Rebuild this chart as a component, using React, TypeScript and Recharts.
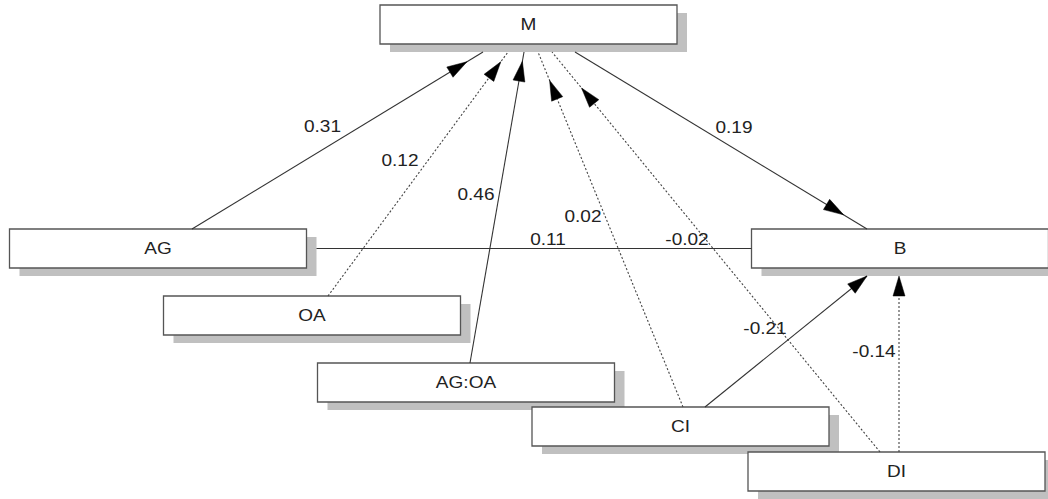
import React from 'react';
import { ComposedChart, XAxis, YAxis, ReferenceArea, ReferenceLine, Scatter } from 'recharts';

// Nodes of the path diagram (layout centres)
const nodeNames = ['M', 'AG', 'OA', 'AG:OA', 'CI', 'B', 'DI'];
const nodeX = [528.5, 158, 312, 466, 680.5, 900, 896.5];
const nodeY = [24.5, 248.5, 315.5, 382.5, 426.5, 248.5, 471.5];

// Edges (paths) with coefficients
const edgeFrom = ['AG', 'OA', 'AG:OA', 'CI', 'DI', 'M', 'AG', 'CI', 'DI'];
const edgeTo = ['M', 'M', 'M', 'M', 'M', 'B', 'B', 'B', 'B'];
const edgeCoef = ['0.31', '0.12', '0.46', '0.02', '-0.02', '0.19', '0.11', '-0.21', '-0.14'];
const edgeDotted = [false, true, false, true, true, false, false, false, true];
const edgeFromSide = ['top', 'top', 'top', 'top', 'top', 'bottom', 'right', 'top', 'top'];
const edgeFromOff = [34, 16, 4, 2.5, -16.5, 46.5, 0, 24.5, 2.5];
const edgeToSide = ['bottom', 'bottom', 'bottom', 'bottom', 'bottom', 'top', 'left', 'bottom', 'bottom'];
const edgeToOff = [-45.5, -20.5, -4.5, 9.5, 23.5, -33, 0, -33, -1];
const edgeArrowAt = [0.945, 0.96, 0.97, 0.92, 0.91, 0.92, 0, 1, 1];
const edgeLabelX = [322.5, 400, 476, 583, 687, 734, 548, 765, 874];
const edgeLabelY = [126.5, 160, 194, 216.5, 239, 127, 239, 328.5, 351.5];

const W = 1048;
const H = 499;
const BOX_W = 297;
const BOX_H = 39;
const SH_DX = 10;
const SH_DY = 8;
const FONT = '"Liberation Sans", Arial, Helvetica, sans-serif';

function anchor(name: string, side: string, off: number) {
  const i = nodeNames.indexOf(name);
  const cx = nodeX[i];
  const cy = nodeY[i];
  if (side === 'top') return { x: cx + off, y: cy - BOX_H / 2 };
  if (side === 'bottom') return { x: cx + off, y: cy + BOX_H / 2 + SH_DY };
  if (side === 'right') return { x: cx + BOX_W / 2 + SH_DX, y: cy + off };
  return { x: cx - BOX_W / 2, y: cy + off };
}

const makeEdgeShape = (dotted: boolean, arrowAt: number) => (props: any) => {
  const x1 = Number(props.x1);
  const y1 = Number(props.y1);
  const x2 = Number(props.x2);
  const y2 = Number(props.y2);
  const dx = x2 - x1;
  const dy = y2 - y1;
  const len = Math.sqrt(dx * dx + dy * dy) || 1;
  const ux = dx / len;
  const uy = dy / len;
  let arrow = null;
  if (arrowAt > 0) {
    const tx = x1 + dx * arrowAt;
    const ty = y1 + dy * arrowAt;
    const bx = tx - ux * 20;
    const by = ty - uy * 20;
    const px = -uy * 6;
    const py = ux * 6;
    arrow = (
      <polygon
        points={`${tx},${ty} ${bx + px},${by + py} ${bx - px},${by - py}`}
        fill="#000"
        stroke="#000"
        strokeWidth={0.5}
      />
    );
  }
  return (
    <g>
      <line
        x1={x1}
        y1={y1}
        x2={x2}
        y2={y2}
        stroke={dotted ? '#444' : '#333'}
        strokeWidth={dotted ? 1.1 : 1.1}
        strokeDasharray={dotted ? '2 2' : undefined}
      />
      {arrow}
    </g>
  );
};

const labelData = edgeCoef.map((c, i) => ({ lx: edgeLabelX[i], ly: edgeLabelY[i], text: c }));

const StretchText = ({ x, y, text }: { x: number; y: number; text: string }) => (
  <text
    transform={`translate(${x},${y}) scale(1.12,1)`}
    x={0}
    y={0}
    textAnchor="middle"
    dominantBaseline="central"
    fontFamily={FONT}
    fontSize={17}
    fill="#222"
  >
    {text}
  </text>
);

export default function App() {
  return (
    <div style={{ position: 'absolute', left: 0, top: 0, background: '#fff' }}>
      <ComposedChart width={W} height={H} margin={{ top: 0, right: 0, bottom: 0, left: 0 }}>
        <XAxis type="number" dataKey="lx" domain={[0, W]} hide allowDataOverflow />
        <YAxis type="number" dataKey="ly" domain={[0, H]} reversed hide allowDataOverflow />
        {nodeNames.map((n, i) => (
          <ReferenceArea
            key={'sh' + n}
            x1={nodeX[i] - BOX_W / 2 + SH_DX}
            x2={nodeX[i] + BOX_W / 2 + SH_DX}
            y1={nodeY[i] - BOX_H / 2 + SH_DY}
            y2={nodeY[i] + BOX_H / 2 + SH_DY}
            fill="#c0c0c0"
            fillOpacity={1}
            stroke="none"
            ifOverflow="visible"
          />
        ))}
        {nodeNames.map((n, i) => (
          <ReferenceArea
            key={'bx' + n}
            x1={nodeX[i] - BOX_W / 2}
            x2={nodeX[i] + BOX_W / 2}
            y1={nodeY[i] - BOX_H / 2}
            y2={nodeY[i] + BOX_H / 2}
            fill="#fff"
            fillOpacity={1}
            stroke="#555"
            strokeWidth={1.3}
            ifOverflow="visible"
            label={(lp: any) => {
              const vb = lp.viewBox || {};
              return <StretchText x={vb.x + vb.width / 2} y={vb.y + vb.height / 2} text={n} />;
            }}
          />
        ))}
        {edgeFrom.map((f, i) => {
          const a = anchor(f, edgeFromSide[i], edgeFromOff[i]);
          const b = anchor(edgeTo[i], edgeToSide[i], edgeToOff[i]);
          return (
            <ReferenceLine
              key={'e' + i}
              segment={[a, b]}
              ifOverflow="visible"
              shape={makeEdgeShape(edgeDotted[i], edgeArrowAt[i])}
            />
          );
        })}
        <Scatter
          data={labelData}
          dataKey="ly"
          isAnimationActive={false}
          shape={(p: any) => <StretchText x={p.cx} y={p.cy} text={p.payload.text} />}
        />
      </ComposedChart>
    </div>
  );
}
